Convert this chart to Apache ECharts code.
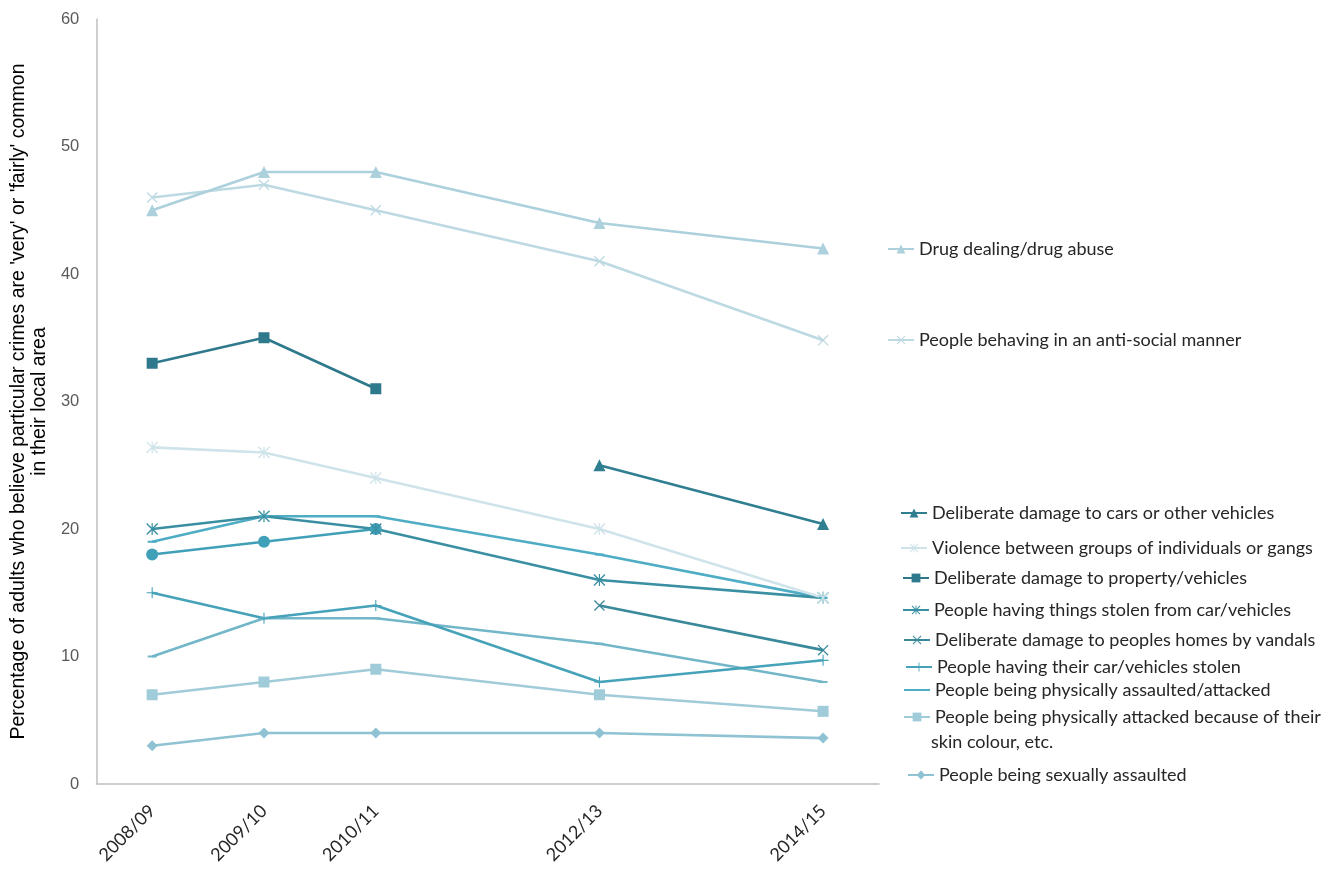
<!DOCTYPE html>
<html>
<head>
<meta charset="utf-8">
<script src="https://cdn.jsdelivr.net/npm/echarts@6/dist/echarts.min.js"></script>
<style>
html,body{margin:0;padding:0;background:#fff;}
#chart{width:1336px;height:869px;}
</style>
</head>
<body>
<div id="chart"></div>
<script>
// ---- data ----
const years = ['2008/09','2009/10','2010/11','2011/12','2012/13','2013/14','2014/15'];
const shownYears = ['2008/09','2009/10','2010/11','2012/13','2014/15'];
const yTicks = [0,10,20,30,40,50,60];

const drugDealing    = [45, 48, 48, null, 44, null, 42];
const antiSocial     = [46, 47, 45, null, 41, null, 34.8];
const damageProperty = [33, 35, 31, null, null, null, null];
const violenceGangs  = [26.4, 26, 24, null, 20, null, 14.6];
const damageCars     = [null, null, null, null, 25, null, 20.4];
const stolenFromCar  = [20, 21, 20, null, 16, null, 14.6];
const damageHomes    = [null, null, null, null, 14, null, 10.5];
const carStolen      = [15, 13, 14, null, 8, null, 9.7];
const physAssault    = [19, 21, 21, null, 18, null, 14.6];
const skinColour     = [7, 8, 9, null, 7, null, 5.7];
const sexualAssault  = [3, 4, 4, null, 4, null, 3.6];
const unlabelledCircle = [18, 19, 20, null, null, null, null];
const unlabelledDash   = [10, 13, 13, null, 11, null, 8];

const names = {
  drug: 'Drug dealing/drug abuse',
  anti: 'People behaving in an anti-social manner',
  cars: 'Deliberate damage to cars or other vehicles',
  viol: 'Violence between groups of individuals or gangs',
  prop: 'Deliberate damage to property/vehicles',
  stol: 'People having things stolen from car/vehicles',
  home: 'Deliberate damage to peoples homes by vandals',
  carS: 'People having their car/vehicles stolen',
  phys: 'People being physically assaulted/attacked',
  skin: 'People being physically attacked because of their',
  skin2: 'skin colour, etc.',
  sex: 'People being sexually assaulted',
  uc: 'Unlabelled series (circle)',
  ud: 'Unlabelled series (dash)'
};

// ---- marker shapes ----
const corner = 'M0,0 L0.01,0 L0,0.01 Z M10,10 L9.99,10 L10,9.99 Z ';
const xShape = 'path://M0,0.8 L0.8,0 L10,9.2 L9.2,10 Z M9.2,0 L10,0.8 L0.8,10 L0,9.2 Z';
const starShape = 'path://M0,0.8 L0.8,0 L10,9.2 L9.2,10 Z M9.2,0 L10,0.8 L0.8,10 L0,9.2 Z M4.5,0 L5.5,0 L5.5,10 L4.5,10 Z';
const plusShape = 'path://M0,4.5 L10,4.5 L10,5.5 L0,5.5 Z M4.5,0 L5.5,0 L5.5,10 L4.5,10 Z';
const dashShape = 'path://' + corner + 'M0,3.8 L10,3.8 L10,6.2 L0,6.2 Z';

function mk(name, data, color, symbol, size) {
  return {
    name: name, type: 'line', data: data, connectNulls: true,
    symbol: symbol, symbolSize: size, showAllSymbol: true,
    lineStyle: { color: color, width: 2.6 },
    itemStyle: { color: color, borderWidth: 0 },
    emphasis: { disabled: true },
    animation: false
  };
}

const series = [
  mk(names.sex, sexualAssault, '#8fc2d2', 'diamond', 11),
  mk(names.skin, skinColour, '#a0cbd9', 'rect', 11),
  mk(names.ud, unlabelledDash, '#72b6c8', dashShape, 9),
  mk(names.carS, carStolen, '#45a2b9', plusShape, 11),
  mk(names.home, damageHomes, '#3a899b', xShape, 11),
  mk(names.phys, physAssault, '#4eadc5', dashShape, 9),
  mk(names.uc, unlabelledCircle, '#40a0b8', 'circle', 12),
  mk(names.stol, stolenFromCar, '#3a8fa3', starShape, 12),
  mk(names.viol, violenceGangs, '#cfe4ea', starShape, 12),
  mk(names.cars, damageCars, '#2f7f91', 'triangle', 12),
  mk(names.prop, damageProperty, '#2e798b', 'rect', 11),
  mk(names.anti, antiSocial, '#bdd9e2', xShape, 11),
  mk(names.drug, drugDealing, '#acd0dc', 'triangle', 12)
];

// legend entries: [name, left, centerY]
const legendPos = [
  [names.drug, 887, 249],
  [names.anti, 887, 340],
  [names.cars, 900, 513],
  [names.viol, 900, 548],
  [names.prop, 902, 578],
  [names.stol, 902, 610],
  [names.home, 903, 640],
  [names.carS, 905, 667],
  [names.phys, 903, 690],
  [names.skin, 903, 717],
  [names.sex, 907, 775]
];

const legends = legendPos.map(function (p) {
  return {
    data: [p[0]], left: p[1], top: p[2] - 11, orient: 'horizontal',
    padding: 0, itemWidth: 26, itemHeight: 11, selectedMode: false,
    textStyle: { fontFamily: 'Lato, sans-serif', fontSize: 18, color: '#262626', lineHeight: 22 }
  };
});

const chart = echarts.init(document.getElementById('chart'), null, { renderer: 'canvas' });
chart.setOption({
  backgroundColor: '#fff',
  animation: false,
  grid: { left: 95, right: 457, top: 19, bottom: 85, containLabel: false },
  legend: legends,
  xAxis: {
    type: 'category', data: years, boundaryGap: true,
    axisLine: { show: true, lineStyle: { color: '#bfbfbf', width: 1.5 } },
    axisTick: { show: false },
    axisLabel: {
      interval: 0, rotate: 45, margin: 24,
      fontFamily: 'Lato, sans-serif', fontSize: 18, color: '#262626',
      formatter: function (v) { return shownYears.indexOf(v) >= 0 ? v : ''; }
    },
    splitLine: { show: false }
  },
  yAxis: {
    type: 'value', min: yTicks[0], max: yTicks[yTicks.length - 1], interval: 10,
    axisLine: { show: true, lineStyle: { color: '#bfbfbf', width: 1.5 } },
    axisTick: { show: false },
    splitLine: { show: false },
    axisLabel: { margin: 17, fontFamily: '"Liberation Sans", Arial, sans-serif', fontSize: 16.5, color: '#595959' },
    name: "Percentage of adults who believe particular crimes are 'very' or 'fairly' common\nin their local area",
    nameLocation: 'middle', nameRotate: 90, nameGap: 46,
    nameTextStyle: { fontFamily: '"Liberation Sans Narrow", "Arial Narrow", "Liberation Sans", sans-serif', fontSize: 19.5, color: '#000', lineHeight: 21, align: 'center' }
  },
  graphic: [{
    type: 'text', left: 931, top: 742 - 11,
    style: { text: names.skin2, fontFamily: 'Lato, sans-serif', fontSize: 18, fill: '#262626', lineHeight: 22 }
  }],
  series: series
});
</script>
</body>
</html>
